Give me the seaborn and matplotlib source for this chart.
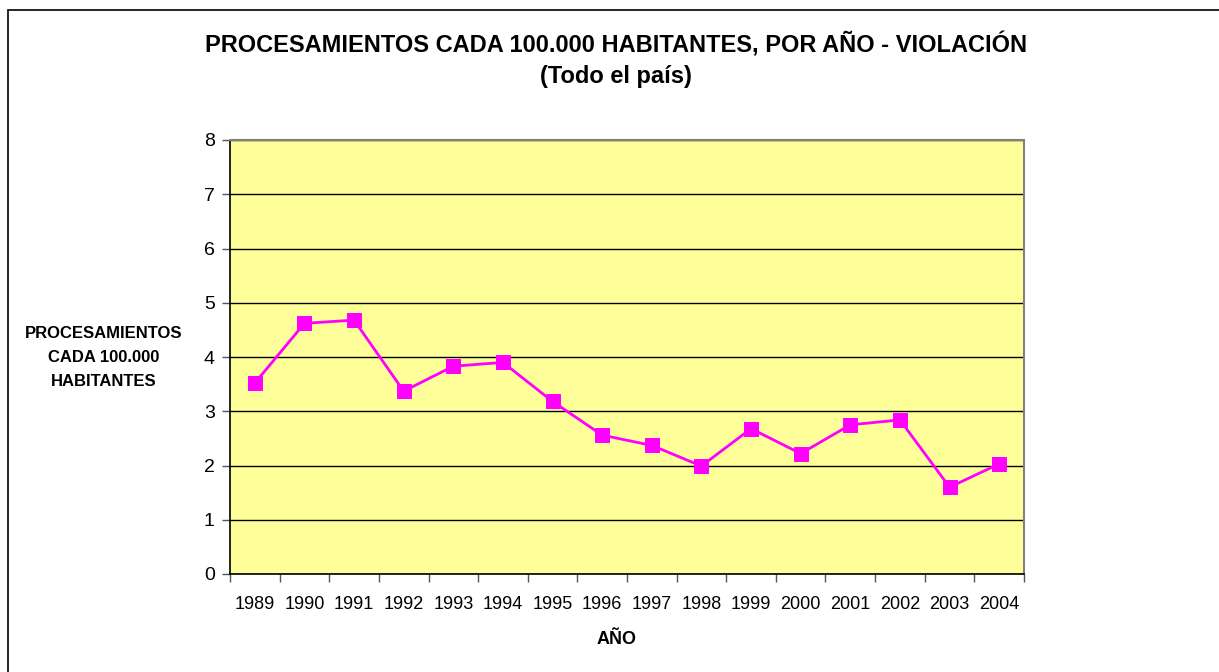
import matplotlib
matplotlib.use("Agg")
import matplotlib.pyplot as plt
import seaborn as sns
import pandas as pd
from matplotlib.patches import Rectangle

years = ["1989", "1990", "1991", "1992", "1993", "1994", "1995", "1996",
         "1997", "1998", "1999", "2000", "2001", "2002", "2003", "2004"]
values = [3.52, 4.62, 4.68, 3.37, 3.83, 3.90, 3.18, 2.56,
          2.37, 1.99, 2.68, 2.22, 2.75, 2.84, 1.60, 2.03]
y_ticks = [0, 1, 2, 3, 4, 5, 6, 7, 8]

sns.set_theme(style="white")
plt.rcParams['font.family'] = ['Liberation Sans', 'DejaVu Sans']
plt.rcParams['text.color'] = 'black'
plt.rcParams['xtick.color'] = 'black'
plt.rcParams['ytick.color'] = 'black'

W, H = 1219, 672
fig = plt.figure(figsize=(W / 100, H / 100), dpi=100)
ax = fig.add_axes([230 / W, 1 - 574 / H, (1024 - 230) / W, (574 - 140) / H])
ax.set_facecolor("#FFFF99")

df = pd.DataFrame({"pos": list(range(len(years))), "val": values})
sns.lineplot(data=df, x="pos", y="val", ax=ax, color="#FF00FF", linewidth=2.0,
             marker="s", markersize=9.5, markeredgecolor="#FF00FF", zorder=3)

ax.set_xlim(-0.5, len(years) - 0.5)
ax.set_ylim(0, 8)
ax.set_yticks(y_ticks)
ax.set_yticklabels([str(t) for t in y_ticks], fontsize=14)
ax.yaxis.grid(True, color="black", linewidth=1.0)
ax.xaxis.grid(False)

ax.set_xticks([i - 0.5 for i in range(len(years) + 1)])
ax.set_xticklabels([])
ax.set_xticks(list(range(len(years))), minor=True)
ax.set_xticklabels(years, minor=True, fontsize=13)
ax.tick_params(axis="x", which="major", direction="out", length=6, width=1, color="#555555", bottom=True)
ax.tick_params(axis="x", which="minor", length=0, pad=16)
ax.tick_params(axis="y", direction="out", length=6, width=1, color="#555555", left=True, pad=5)

for s in ["left", "bottom"]:
    ax.spines[s].set_color("black")
    ax.spines[s].set_linewidth(1.2)
for s in ["top", "right"]:
    ax.spines[s].set_visible(True)
    ax.spines[s].set_color("#808080")
    ax.spines[s].set_linewidth(1.5)

ax.set_xlabel("")
ax.set_ylabel("")

fig.text(616 / W, 1 - 45 / H, "PROCESAMIENTOS CADA 100.000 HABITANTES, POR AÑO - VIOLACIÓN",
         ha="center", va="center", fontsize=17, fontweight="bold")
fig.text(616 / W, 1 - 76 / H, "(Todo el país)", ha="center", va="center",
         fontsize=17, fontweight="bold")
fig.text(104 / W, 1 - 358 / H, "PROCESAMIENTOS\nCADA 100.000\nHABITANTES", ha="center", va="center",
         fontsize=12, fontweight="bold", linespacing=1.75)
fig.text(617 / W, 1 - 640 / H, "AÑO", ha="center", va="center", fontsize=13, fontweight="bold")

fig.patches.append(Rectangle((8 / W, -0.1), 1.2, 1 - 10 / H + 0.1, transform=fig.transFigure,
                             fill=False, edgecolor="black", linewidth=1.2))

fig.savefig("out.png", dpi=100, facecolor="white")
